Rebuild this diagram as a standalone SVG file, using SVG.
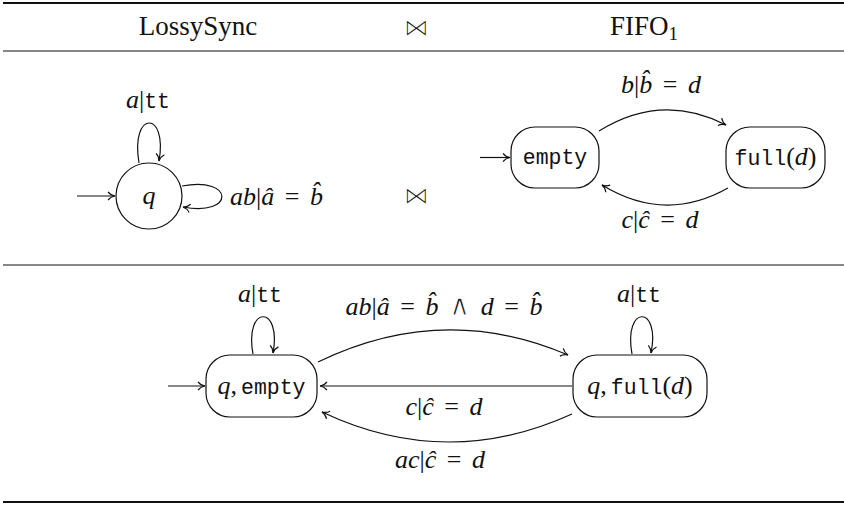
<svg xmlns="http://www.w3.org/2000/svg" width="844" height="508" viewBox="0 0 844 508">
<style>
text{font-family:"Liberation Serif","DejaVu Serif",serif;font-size:26px;fill:#111;word-spacing:4px}
.h{font-size:27px;word-spacing:0}
.i{font-style:italic}
.m{font-family:"Liberation Mono","DejaVu Sans Mono",monospace;font-size:21.5px}
.j{font-family:"DejaVu Sans",sans-serif;font-size:25px;stroke:#fff;stroke-width:1}
.w{font-family:"DejaVu Sans",sans-serif;font-size:29px;stroke:#fff;stroke-width:1}
.st{fill:#fff;stroke:#111;stroke-width:1.2}
.e{fill:none;stroke:#111;stroke-width:1.2;marker-end:url(#ah)}
.rule{stroke:#111}
</style>
<defs>
<marker id="ah" markerUnits="userSpaceOnUse" markerWidth="14" markerHeight="14" viewBox="-10 -7 12 14" refX="0" refY="0" orient="auto">
<path d="M-7,-4.2 C-5,-1.6 -1.8,-0.3 0,0 C-1.8,0.3 -5,1.6 -7,4.2" fill="none" stroke="#111" stroke-width="1.2"/>
</marker>
</defs>
<rect width="844" height="508" fill="#fff"/>
<g id="rules">
<line class="rule" x1="3" y1="3" x2="844" y2="3" stroke-width="2"/>
<line class="rule" x1="3" y1="51" x2="844" y2="51" stroke-width="1.2"/>
<line class="rule" x1="3" y1="265" x2="844" y2="265" stroke-width="1.2"/>
<line class="rule" x1="3" y1="502" x2="844" y2="502" stroke-width="2"/>
</g>
<g id="header">
<text class="h" x="198" y="35" text-anchor="middle">LossySync</text>
<text class="j" x="416" y="36" text-anchor="middle">⋈</text>
<text class="h" x="610" y="35">FIFO<tspan font-size="19" dy="5">1</tspan></text>
<text class="j" x="416" y="204" text-anchor="middle">⋈</text>
</g>
<g id="q"><circle class="st" cx="149" cy="196" r="33"/><text class="i" x="149" y="204" text-anchor="middle">q</text></g>
<g id="empty"><rect class="st" x="511" y="127" width="88" height="61" rx="24"/><text class="m" x="555" y="164" text-anchor="middle">empty</text></g>
<g id="full"><rect class="st" x="726" y="127" width="99" height="61" rx="24"/><text x="775.5" y="165" text-anchor="middle"><tspan class="m">full</tspan>(<tspan class="i">d</tspan>)</text></g>
<g id="qempty"><rect class="st" x="206" y="355" width="111" height="62" rx="24"/><text x="261.5" y="394" text-anchor="middle"><tspan class="i">q</tspan>,<tspan class="m" dx="4">empty</tspan></text></g>
<g id="qfull"><rect class="st" x="573" y="355" width="134" height="62" rx="24"/><text x="640" y="394" text-anchor="middle"><tspan class="i">q</tspan>,<tspan class="m" dx="4">full</tspan>(<tspan class="i">d</tspan>)</text></g>
<g id="connectors">
<path class="e" d="M77,196 L115,196"/>
<path class="e" d="M139,163 C130,110 168,110 159,161"/>
<path class="e" d="M182,186 C235,176 235,217 183,207"/>
<path class="e" d="M480,157.5 L510,157.5"/>
<path class="e" d="M599,131 Q662,92 726,125"/>
<path class="e" d="M728,188 Q665,223.5 602,185"/>
<path class="e" d="M168,386 L205,386"/>
<path class="e" d="M253,354 C244,304.5 282,304.5 273,353"/>
<path class="e" d="M632,354 C623,304.5 661,304.5 651,353"/>
<path class="e" d="M318,362 Q443,301.5 568,355"/>
<path class="e" d="M572,386 L320,386"/>
<path class="e" d="M572,414 Q447,471 322,412"/>
</g>
<g id="labels">
<text x="148" y="108" text-anchor="middle"><tspan class="i">a</tspan>|<tspan class="m">tt</tspan></text>
<text x="230" y="205"><tspan class="i">ab</tspan>|<tspan class="i">â</tspan> = <tspan class="i">b̂</tspan></text>
<text x="661" y="93" text-anchor="middle"><tspan class="i">b</tspan>|<tspan class="i">b̂</tspan> = <tspan class="i">d</tspan></text>
<text x="660" y="228" text-anchor="middle"><tspan class="i">c</tspan>|<tspan class="i">ĉ</tspan> = <tspan class="i">d</tspan></text>
<text x="260" y="302" text-anchor="middle"><tspan class="i">a</tspan>|<tspan class="m">tt</tspan></text>
<text x="639" y="302" text-anchor="middle"><tspan class="i">a</tspan>|<tspan class="m">tt</tspan></text>
<text x="444" y="315" text-anchor="middle"><tspan class="i">ab</tspan>|<tspan class="i">â</tspan> = <tspan class="i">b̂</tspan> <tspan class="w">∧</tspan> <tspan class="i">d</tspan> = <tspan class="i">b̂</tspan></text>
<text x="444" y="415" text-anchor="middle"><tspan class="i">c</tspan>|<tspan class="i">ĉ</tspan> = <tspan class="i">d</tspan></text>
<text x="440" y="468" text-anchor="middle"><tspan class="i">ac</tspan>|<tspan class="i">ĉ</tspan> = <tspan class="i">d</tspan></text>
</g>
</svg>
